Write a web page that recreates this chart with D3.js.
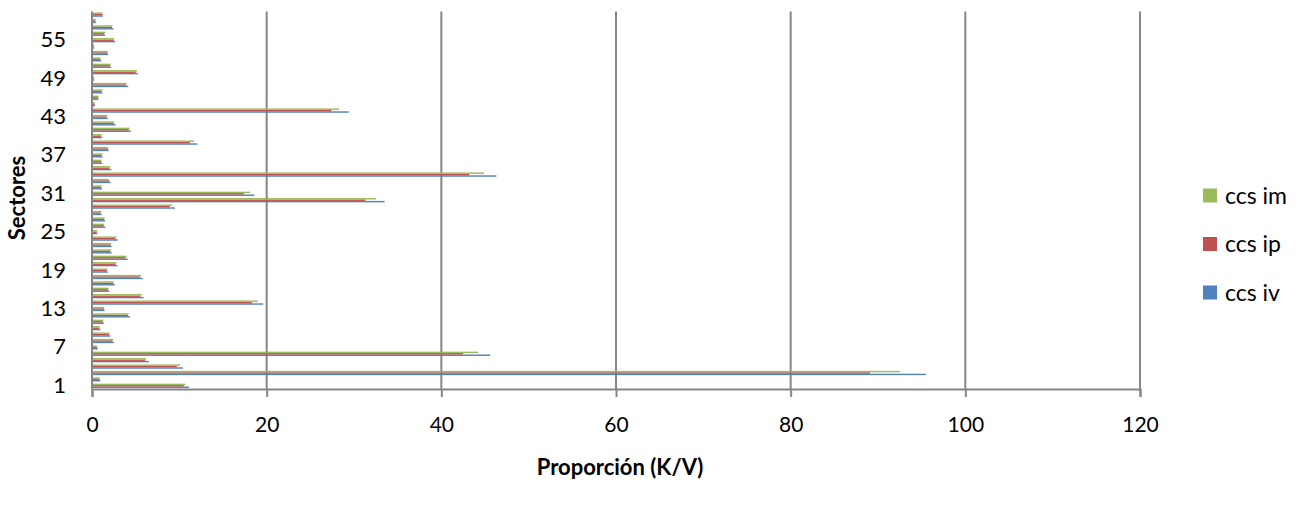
<!DOCTYPE html>
<html>
<head>
<meta charset="utf-8">
<script src="https://cdn.jsdelivr.net/npm/d3@7"></script>
<style>
  body { margin: 0; background: #fff; }
  svg { display: block; font-family: Lato, "Open Sans", sans-serif; }
</style>
</head>
<body>
<svg id="chart" width="1303" height="508"></svg>
<script>
// sectors 1..59
const sectors = d3.range(1, 60).map(String);
const seriesNames = ["ccs iv", "ccs ip", "ccs im"];
const seriesColors = ["#4F81BD", "#C0504D", "#9BBB59"];

const ccsIv = [11.1, 0.95, 95.5, 10.4, 6.5, 45.6, 0.65, 2.5, 2.1, 0.95,
  1.35, 4.35, 1.45, 19.6, 5.9, 2.0, 2.6, 5.8, 1.8, 2.9,
  4.1, 2.25, 2.25, 2.95, 0.6, 1.55, 1.5, 1.1, 9.5, 33.5,
  18.6, 1.15, 2.1, 46.3, 2.2, 1.15, 1.2, 1.9, 12.05, 1.15,
  4.45, 2.7, 1.8, 29.4, 0.35, 0.75, 1.2, 4.15, 0.25, 5.25,
  2.2, 1.05, 1.85, 0.25, 2.65, 1.5, 2.45, 0.45, 1.25];
const ccsIp = [10.5, 0.85, 89.1, 9.7, 6.1, 42.5, 0.6, 2.35, 1.95, 0.85,
  1.25, 4.1, 1.35, 18.3, 5.55, 1.85, 2.45, 5.5, 1.7, 2.7,
  3.85, 2.1, 2.15, 2.7, 0.55, 1.35, 1.4, 1.0, 8.9, 31.3,
  17.4, 1.05, 2.0, 43.2, 2.0, 1.05, 1.1, 1.85, 11.2, 1.05,
  4.2, 2.5, 1.7, 27.4, 0.3, 0.7, 1.1, 3.9, 0.2, 5.0,
  2.05, 0.95, 1.75, 0.2, 2.5, 1.4, 2.3, 0.4, 1.2];
const ccsIm = [10.7, 0.9, 92.5, 10.1, 6.2, 44.2, 0.55, 2.4, 2.0, 0.9,
  1.3, 4.2, 1.4, 19.0, 5.7, 1.9, 2.5, 5.6, 1.75, 2.8,
  3.97, 2.2, 2.2, 2.8, 0.6, 1.4, 1.45, 1.05, 9.2, 32.5,
  18.1, 1.1, 1.9, 44.9, 2.1, 1.1, 1.2, 1.8, 11.7, 1.1,
  4.3, 2.55, 1.75, 28.3, 0.3, 0.75, 1.2, 3.97, 0.25, 5.15,
  2.15, 1.0, 1.8, 0.25, 2.55, 1.55, 2.35, 0.42, 1.2];

const xTicks = [0, 20, 40, 60, 80, 100, 120];
const yTickLabels = ["1", "7", "13", "19", "25", "31", "37", "43", "49", "55"];

const allSeries = [ccsIv, ccsIp, ccsIm];

const svg = d3.select("#chart");
const plotLeft = 92, plotRight = 1140, plotTop = 11.4, plotBottom = 389;

const x = d3.scaleLinear().domain([0, 120]).range([plotLeft, plotRight]);
const y = d3.scaleBand().domain(sectors).range([plotBottom, plotTop])
  .paddingInner(1.5 / 4.5).paddingOuter(0.75 / 4.5);
// first series at bottom of each group
const ySub = d3.scaleBand().domain([2, 1, 0]).range([0, y.bandwidth()]);

// gridlines
svg.append("g")
  .selectAll("line")
  .data(xTicks.slice(1))
  .enter().append("line")
  .attr("x1", d => x(d)).attr("x2", d => x(d))
  .attr("y1", plotTop).attr("y2", plotBottom)
  .attr("stroke", "#868686").attr("stroke-width", 2);

// bars
const groups = svg.append("g");
allSeries.forEach((vals, si) => {
  groups.append("g")
    .selectAll("rect")
    .data(vals)
    .enter().append("rect")
    .attr("x", x(0))
    .attr("y", (d, i) => y(sectors[i]) + ySub(si))
    .attr("width", d => x(d) - x(0))
    .attr("height", ySub.bandwidth())
    .attr("fill", seriesColors[si]);
});

// x axis
const xAxis = svg.append("g")
  .attr("transform", "translate(0," + plotBottom + ")")
  .call(d3.axisBottom(x).tickValues(xTicks).tickSize(8).tickPadding(20).tickFormat(d3.format("d")));
xAxis.select(".domain").attr("stroke", "#868686").attr("stroke-width", 2);
xAxis.selectAll(".tick line").attr("stroke", "#868686").attr("stroke-width", 2);
xAxis.selectAll("text").attr("font-size", 21).attr("fill", "#000")
  .attr("font-family", "Lato, sans-serif");

// y axis
const yAxis = svg.append("g")
  .attr("transform", "translate(" + plotLeft + ",0)")
  .call(d3.axisLeft(y).tickValues(yTickLabels).tickSize(0).tickPadding(26));
yAxis.select(".domain").attr("stroke", "#868686").attr("stroke-width", 2)
  .attr("d", "M0," + plotTop + "V" + plotBottom);
yAxis.selectAll("text").attr("font-size", 22).attr("fill", "#000")
  .attr("font-family", "Lato, sans-serif");

// axis titles
svg.append("text")
  .attr("x", 620).attr("y", 475)
  .attr("text-anchor", "middle")
  .attr("font-size", 22).attr("font-weight", "bold")
  .text("Proporción (K/V)");
svg.append("text")
  .attr("transform", "translate(25,198) rotate(-90)")
  .attr("text-anchor", "middle")
  .attr("font-size", 22).attr("font-weight", "bold")
  .text("Sectores");

// legend, reversed order
const legendOrder = [2, 1, 0];
const legend = svg.append("g");
legendOrder.forEach((si, k) => {
  const cy = 195.5 + k * 48.5;
  legend.append("rect")
    .attr("x", 1203).attr("y", cy - 7)
    .attr("width", 14).attr("height", 14)
    .attr("fill", seriesColors[si]);
  legend.append("text")
    .attr("x", 1225).attr("y", cy)
    .attr("dy", "0.35em")
    .attr("font-size", 23)
    .text(seriesNames[si]);
});
</script>
</body>
</html>
